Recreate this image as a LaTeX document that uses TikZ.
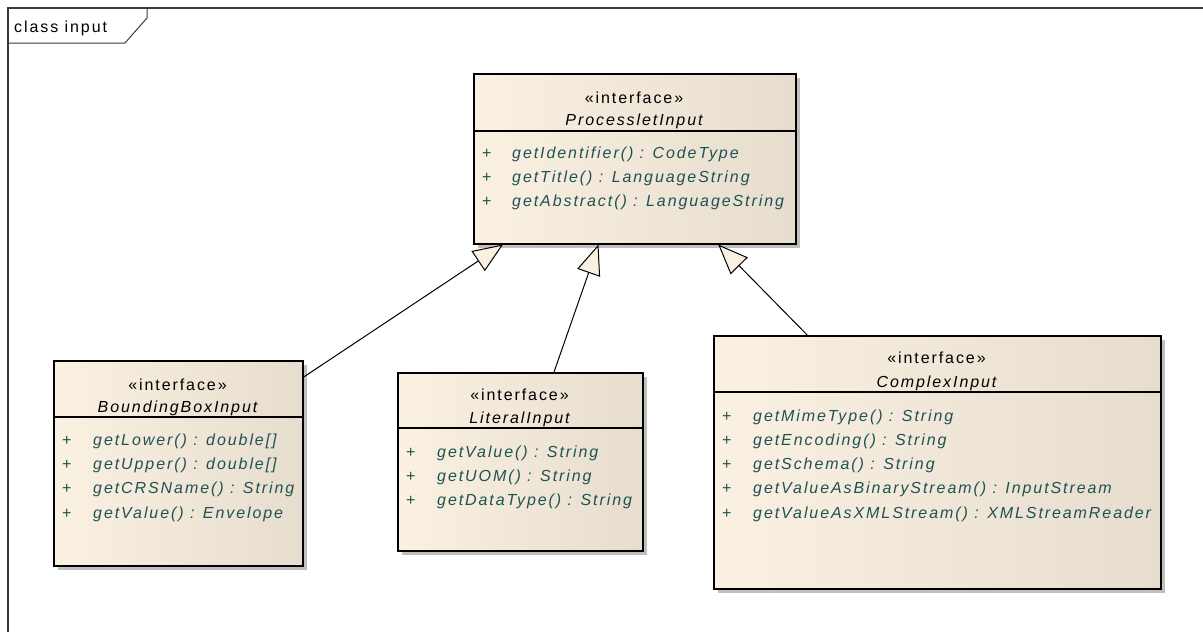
\documentclass[tikz,border=0pt]{standalone}
\usepackage{fontspec}
\setmainfont{Liberation Sans}
\newfontfamily\umlfont[LetterSpace=12]{Liberation Sans}
\usetikzlibrary{arrows.meta,calc,shadows}

\definecolor{classfill}{HTML}{FBF1E3}
\definecolor{classshade}{HTML}{E6DDCF}
\definecolor{opcolor}{HTML}{1F5252}
\definecolor{framecolor}{HTML}{3A3A3A}

\tikzset{
  classbox/.style={draw=black, line width=1.5pt, left color=classfill, right color=classshade,
    anchor=north west, inner sep=0pt,
    general shadow={fill=black!25, shadow xshift=4pt, shadow yshift=-4pt}},
  stereo/.style={font=\umlfont\fontsize{16}{18}\selectfont, anchor=base, inner sep=0pt},
  cname/.style={font=\umlfont\itshape\fontsize{16}{18}\selectfont, anchor=base, inner sep=0pt},
  plus/.style={font=\umlfont\fontsize{16}{18}\selectfont, text=opcolor, anchor=base west, inner sep=0pt},
  op/.style={font=\umlfont\itshape\fontsize{16}{18}\selectfont, text=opcolor, anchor=base west, inner sep=0pt},
  gen/.style={line width=1pt, -{Triangle[length=30pt,width=24pt,fill=classfill]}},
}

\begin{document}
\begin{tikzpicture}[x=1pt,y=-1pt]
\useasboundingbox (0,0) rectangle (1203,632);

% frame and its tab
\draw[framecolor, line width=1.5pt] (8,632) -- (8,8) -- (1203,8);
\draw[framecolor, line width=1pt] (8,43) -- (125,43) -- (147,18) -- (147,8);
\node[anchor=base west, font=\umlfont\fontsize{16}{18}\selectfont, inner sep=0pt] (title) at (14,32) {class input};

% ProcessletInput
\node[classbox, minimum width=322pt, minimum height=170pt] (proc) at (473,73) {};
\draw[line width=1.2pt] ([yshift=-58pt]proc.north west) -- ([yshift=-58pt]proc.north east);
\node[stereo] (proc-st) at (634,103) {«interface»};
\node[cname] (proc-nm) at (634,125) {ProcessletInput};
\foreach \op [count=\i] in {getIdentifier() : CodeType, getTitle() : LanguageString, getAbstract() : LanguageString} {
  \node[plus] (proc-p\i) at (482,{134+24*\i}) {+};
  \node[op] (proc-o\i) at (512,{134+24*\i}) {\op};
}

% BoundingBoxInput
\node[classbox, minimum width=249pt, minimum height=205pt] (bbox) at (53,360) {};
\draw[line width=1.2pt] ([yshift=-57pt]bbox.north west) -- ([yshift=-57pt]bbox.north east);
\node[stereo] (bbox-st) at (177.5,390) {«interface»};
\node[cname] (bbox-nm) at (177.5,412) {BoundingBoxInput};
\foreach \op [count=\i] in {getLower() : double[], getUpper() : double[], getCRSName() : String, getValue() : Envelope} {
  \node[plus] (bbox-p\i) at (62,{421+24.3*\i}) {+};
  \node[op] (bbox-o\i) at (93,{421+24.3*\i}) {\op};
}

% LiteralInput
\node[classbox, minimum width=245pt, minimum height=178pt] (lit) at (397,372) {};
\draw[line width=1.2pt] ([yshift=-56pt]lit.north west) -- ([yshift=-56pt]lit.north east);
\node[stereo] (lit-st) at (519.5,400) {«interface»};
\node[cname] (lit-nm) at (519.5,423) {LiteralInput};
\foreach \op [count=\i] in {getValue() : String, getUOM() : String, getDataType() : String} {
  \node[plus] (lit-p\i) at (406,{433+24*\i}) {+};
  \node[op] (lit-o\i) at (437,{433+24*\i}) {\op};
}

% ComplexInput
\node[classbox, minimum width=447pt, minimum height=253pt] (cplx) at (713,335) {};
\draw[line width=1.2pt] ([yshift=-57pt]cplx.north west) -- ([yshift=-57pt]cplx.north east);
\node[stereo] (cplx-st) at (936.5,363) {«interface»};
\node[cname] (cplx-nm) at (936.5,387) {ComplexInput};
\foreach \op [count=\i] in {getMimeType() : String, getEncoding() : String, getSchema() : String, getValueAsBinaryStream() : InputStream, getValueAsXMLStream() : XMLStreamReader} {
  \node[plus] (cplx-p\i) at (722,{396.7+24.3*\i}) {+};
  \node[op] (cplx-o\i) at (753,{396.7+24.3*\i}) {\op};
}

% generalisations
\draw[gen] ($(bbox.north east)!0.083!(bbox.south east)$) -- ($(proc.south west)!0.093!(proc.south east)$);
\draw[gen] ($(lit.north west)!0.637!(lit.north east)$) -- ($(proc.south west)!0.388!(proc.south east)$);
\draw[gen] ($(cplx.north west)!0.21!(cplx.north east)$) -- ($(proc.south west)!0.758!(proc.south east)$);
\end{tikzpicture}
\end{document}
